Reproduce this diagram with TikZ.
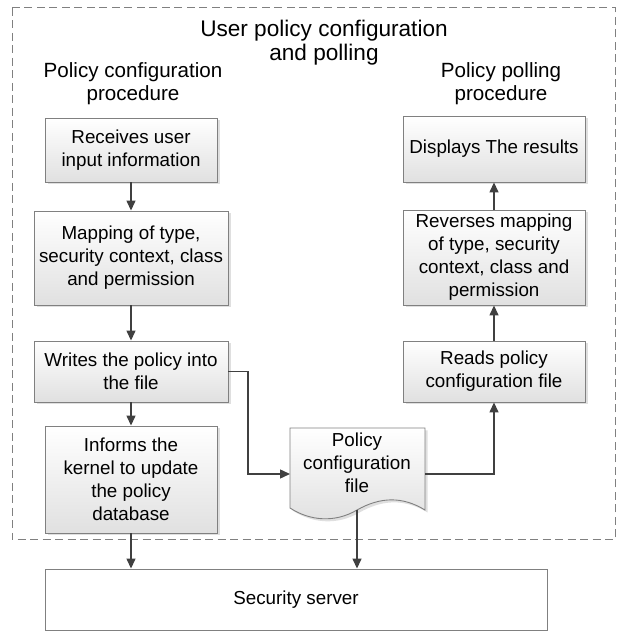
\documentclass[tikz,border=0pt]{standalone}
\usepackage{fontspec}
\setmainfont{Liberation Sans}
\usetikzlibrary{arrows.meta,shadows}
\definecolor{boxline}{HTML}{808080}
\definecolor{arrowc}{HTML}{404040}
\definecolor{frame}{HTML}{808080}
\begin{document}
\begin{tikzpicture}[x=1pt,y=1pt,
  boxfont/.style={font=\fontsize{18.8}{23}\selectfont},
  procbox/.style={draw=boxline, line width=0.9pt, top color=white, bottom color=black!12,
    drop shadow={shadow xshift=2.5pt, shadow yshift=-2.5pt, fill=black!25, opacity=0.5},
    align=center, inner sep=0pt, boxfont},
  plainbox/.style={draw=boxline, line width=0.9pt, fill=white, align=center, inner sep=0pt, boxfont},
  conn/.style={draw=arrowc, line width=1.4pt, -{Triangle[length=10pt,width=9pt]}},
  titlefont/.style={font=\fontsize{22.6}{24}\selectfont, align=center},
  subfont/.style={font=\fontsize{20.6}{23}\selectfont, align=center}
]
\useasboundingbox (0,0) rectangle (621,631);
% dashed frame
\draw[frame, line width=1pt, dash pattern=on 8pt off 4.5pt] (12,623) rectangle (615,91);
% titles
\node[titlefont] (title) at (324,588) {User policy configuration\\and polling};
\node[subfont] (subl) at (133,547) {Policy configuration\\procedure};
\node[subfont] (subr) at (501,547) {Policy polling\\procedure};
% left column
\node[procbox, minimum width=172pt, minimum height=64pt] (b1) at (131,481) {Receives user\\input information};
\node[procbox, minimum width=194pt, minimum height=94pt] (b2) at (131,373) {Mapping of type,\\security context, class\\and permission};
\node[procbox, minimum width=194pt, minimum height=61pt] (b3) at (131,259.5) {Writes the policy into\\the file};
\node[procbox, minimum width=172pt, minimum height=107pt] (b4) at (131,151.5) {Informs the\\kernel to update\\the policy\\database};
% right column
\node[procbox, minimum width=182pt, minimum height=66pt] (r1) at (494,482) {Displays The results};
\node[procbox, minimum width=182pt, minimum height=95pt] (r2) at (494,373.5) {Reverses mapping\\of type, security\\context, class and\\permission};
\node[procbox, minimum width=182pt, minimum height=61pt] (r3) at (494,259.5) {Reads policy\\configuration file};
% server
\node[plainbox, minimum width=502pt, minimum height=61pt] (srv) at (296,31.5) {Security server};
% document shape
\path[draw=boxline, line width=0.9pt, top color=white, bottom color=black!12,
    drop shadow={shadow xshift=2.5pt, shadow yshift=-2.5pt, fill=black!25, opacity=0.5}]
  (290,203) -- (425,203) -- (425,121)
  .. controls (402,135) and (380,134) .. (357,121)
  .. controls (335,108) and (310,110) .. (290,123) -- cycle;
\coordinate (docW) at (290,157);
\coordinate (docE) at (425,157);
\coordinate (docS) at (357,121);
\node[boxfont, align=center] (doc) at (357,168) {Policy\\configuration\\file};
% connectors
\draw[conn] (b1) -- (b2);
\draw[conn] (b2) -- (b3);
\draw[conn] (b3) -- (b4);
\draw[conn] (b4) -- (b4.south |- srv.north);
\draw[conn] (b3.east) -- (248,259.5) |- (docW);
\draw[conn] (docE) -| (r3.south);
\draw[conn] (r3) -- (r2);
\draw[conn] (r2) -- (r1);
\draw[conn] (docS) -- (docS |- srv.north);
\end{tikzpicture}
\end{document}
